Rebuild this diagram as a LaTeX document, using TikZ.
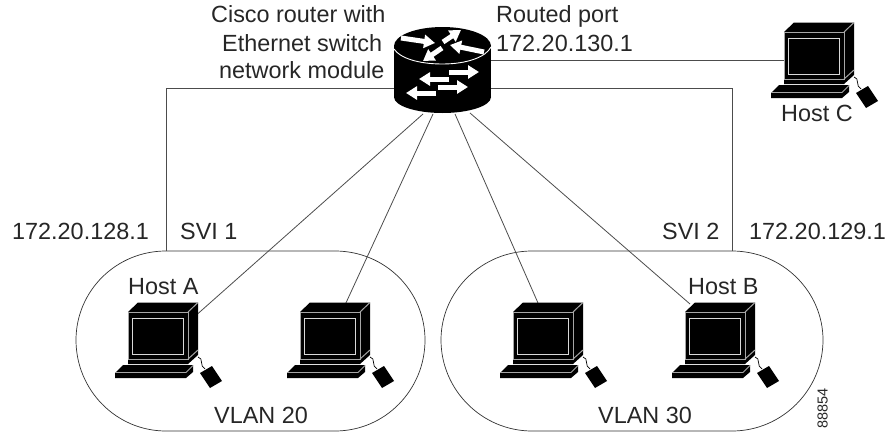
\documentclass[tikz,border=0pt]{standalone}
\usepackage{fontspec}
\setmainfont{Liberation Sans}
\usetikzlibrary{positioning,calc,arrows.meta}
\tikzset{
    label text/.style={font=\fontsize{23.4}{27.5}\selectfont,text=black!85,inner sep=0pt,anchor=base west},
    wire/.style={draw=black!70,line width=0.8pt},
    blob/.style={draw=black!80,line width=0.7pt},
    white arrow/.style={draw=white,line width=5pt,-{Triangle[length=11pt,width=13pt]}},
    host/.pic={
        % tower
        \fill[black] (0,0) -- (10,-9.5) -- (70,-9.5) -- (70,43) -- (60,52) -- (0,52) -- cycle;
        \draw[black!35,line width=1pt] (0,0) rectangle (60,47);
        \draw[black!35,line width=1pt] (60,0) -- (70,-9.5);
        \draw[black!35,line width=1pt] (60,47) -- (70,38);
        \draw[white!85!black,line width=1pt] (4,6) rectangle (55,42);
        % keyboard
        \fill[black] (-13,61) -- (-5,53) -- (65,53) -- (65,60) -- (58,66) -- (-13,66) -- cycle;
        \draw[black!35,line width=0.9pt] (-13,60.5) -- (58,60.5) -- (65,53.5);
        % mouse
        \draw[black,line width=0.7pt] (70,45) .. controls (76,46) and (71,54) .. (77,57);
        \fill[black] (72,61) -- (84,54) -- (94,69) -- (82,76) -- cycle;
    },
}
\begin{document}
\begin{tikzpicture}[x=1pt,y=-1pt]
    \useasboundingbox (0,0) rectangle (888,431);
    % VLAN outlines
    \draw[blob] (166,251) -- (335,251) .. controls (385,251) and (425,291) .. (425,340)
        .. controls (425,390) and (385,431) .. (335,431) -- (166,431)
        .. controls (116,431) and (76,390) .. (76,340)
        .. controls (76,291) and (116,251) .. (166,251);
    \draw[blob] (532,251) -- (732,251) .. controls (782,251) and (823,291) .. (823,340)
        .. controls (823,390) and (782,431) .. (732,431) -- (532,431)
        .. controls (482,431) and (441,390) .. (441,340)
        .. controls (441,291) and (482,251) .. (532,251);
    % Connection points
    \coordinate (hostC) at (784,60);
    \coordinate (hostA) at (193,318);
    \coordinate (hostD) at (345,305);
    \coordinate (hostE) at (538,303);
    \coordinate (hostB) at (690,304);
    \coordinate (svi1) at (166,251);
    \coordinate (svi2) at (732,251);
    \coordinate (routerL) at (394,88);
    \coordinate (routerR) at (491,88);
    \coordinate (routerP) at (491,60);
    \coordinate (routerA) at (423,114);
    \coordinate (routerD) at (433,114);
    \coordinate (routerE) at (455,114);
    \coordinate (routerB) at (470,113);
    % Links
    \draw[wire] (svi1) |- (routerL);
    \draw[wire] (svi2) |- (routerR);
    \draw[wire] (routerP) -- (hostC);
    \draw[wire] (hostA) -- (routerA);
    \draw[wire] (hostD) -- (routerD);
    \draw[wire] (hostE) -- (routerE);
    \draw[wire] (hostB) -- (routerB);
    % Router
    \fill[black] (442.5,46) ellipse[x radius=48.5,y radius=19];
    \fill[black] (394,46) rectangle (491,97);
    \fill[black] (442.5,97) ellipse[x radius=48.5,y radius=16];
    \draw[white,line width=0.9pt] (394,49) .. controls (400,58) and (418,64) .. (442.5,64)
        .. controls (467,64) and (486,57) .. (491,47);
    \draw[white arrow] (401,38) -- (435,43);
    \draw[white arrow] (443,42) -- (461,30);
    \draw[white arrow] (442,48) -- (423,61);
    \draw[white arrow] (484,52) -- (450,45);
    \draw[white arrow] (449,72) -- (479,72);
    \draw[white arrow] (449,79) -- (419,79);
    \draw[white arrow] (438,87) -- (468,87);
    \draw[white arrow] (436,93) -- (406,93);
    % Hosts
    \pic at (784,32) {host};
    \pic at (128,312) {host};
    \pic at (300,312) {host};
    \pic at (513,312) {host};
    \pic at (685,312) {host};
    % Labels
    \node[label text] (lblcisco) at (211,23) {Cisco router with};
    \node[label text] (lbleth) at (222,51) {Ethernet switch};
    \node[label text] (lblnet) at (219,78) {network module};
    \node[label text] (lblrouted) at (496,23) {Routed port};
    \node[label text] (lblport) at (496,51) {172.20.130.1};
    \node[label text] (lblC) at (781,121) {Host C};
    \node[label text] (lblip1) at (12,239) {172.20.128.1};
    \node[label text] (lblsvi1) at (180,239) {SVI 1};
    \node[label text] (lblsvi2) at (662,239) {SVI 2};
    \node[label text] (lblip2) at (749,239) {172.20.129.1};
    \node[label text] (lblA) at (128,294) {Host A};
    \node[label text] (lblB) at (688,294) {Host B};
    \node[label text] (lblv20) at (214,423) {VLAN 20};
    \node[label text] (lblv30) at (598,423) {VLAN 30};
    \node[font=\fontsize{14.5}{16}\selectfont,text=black!85,rotate=90,inner sep=0pt] (lblnum) at (822.5,408.5) {88854};
\end{tikzpicture}
\end{document}
